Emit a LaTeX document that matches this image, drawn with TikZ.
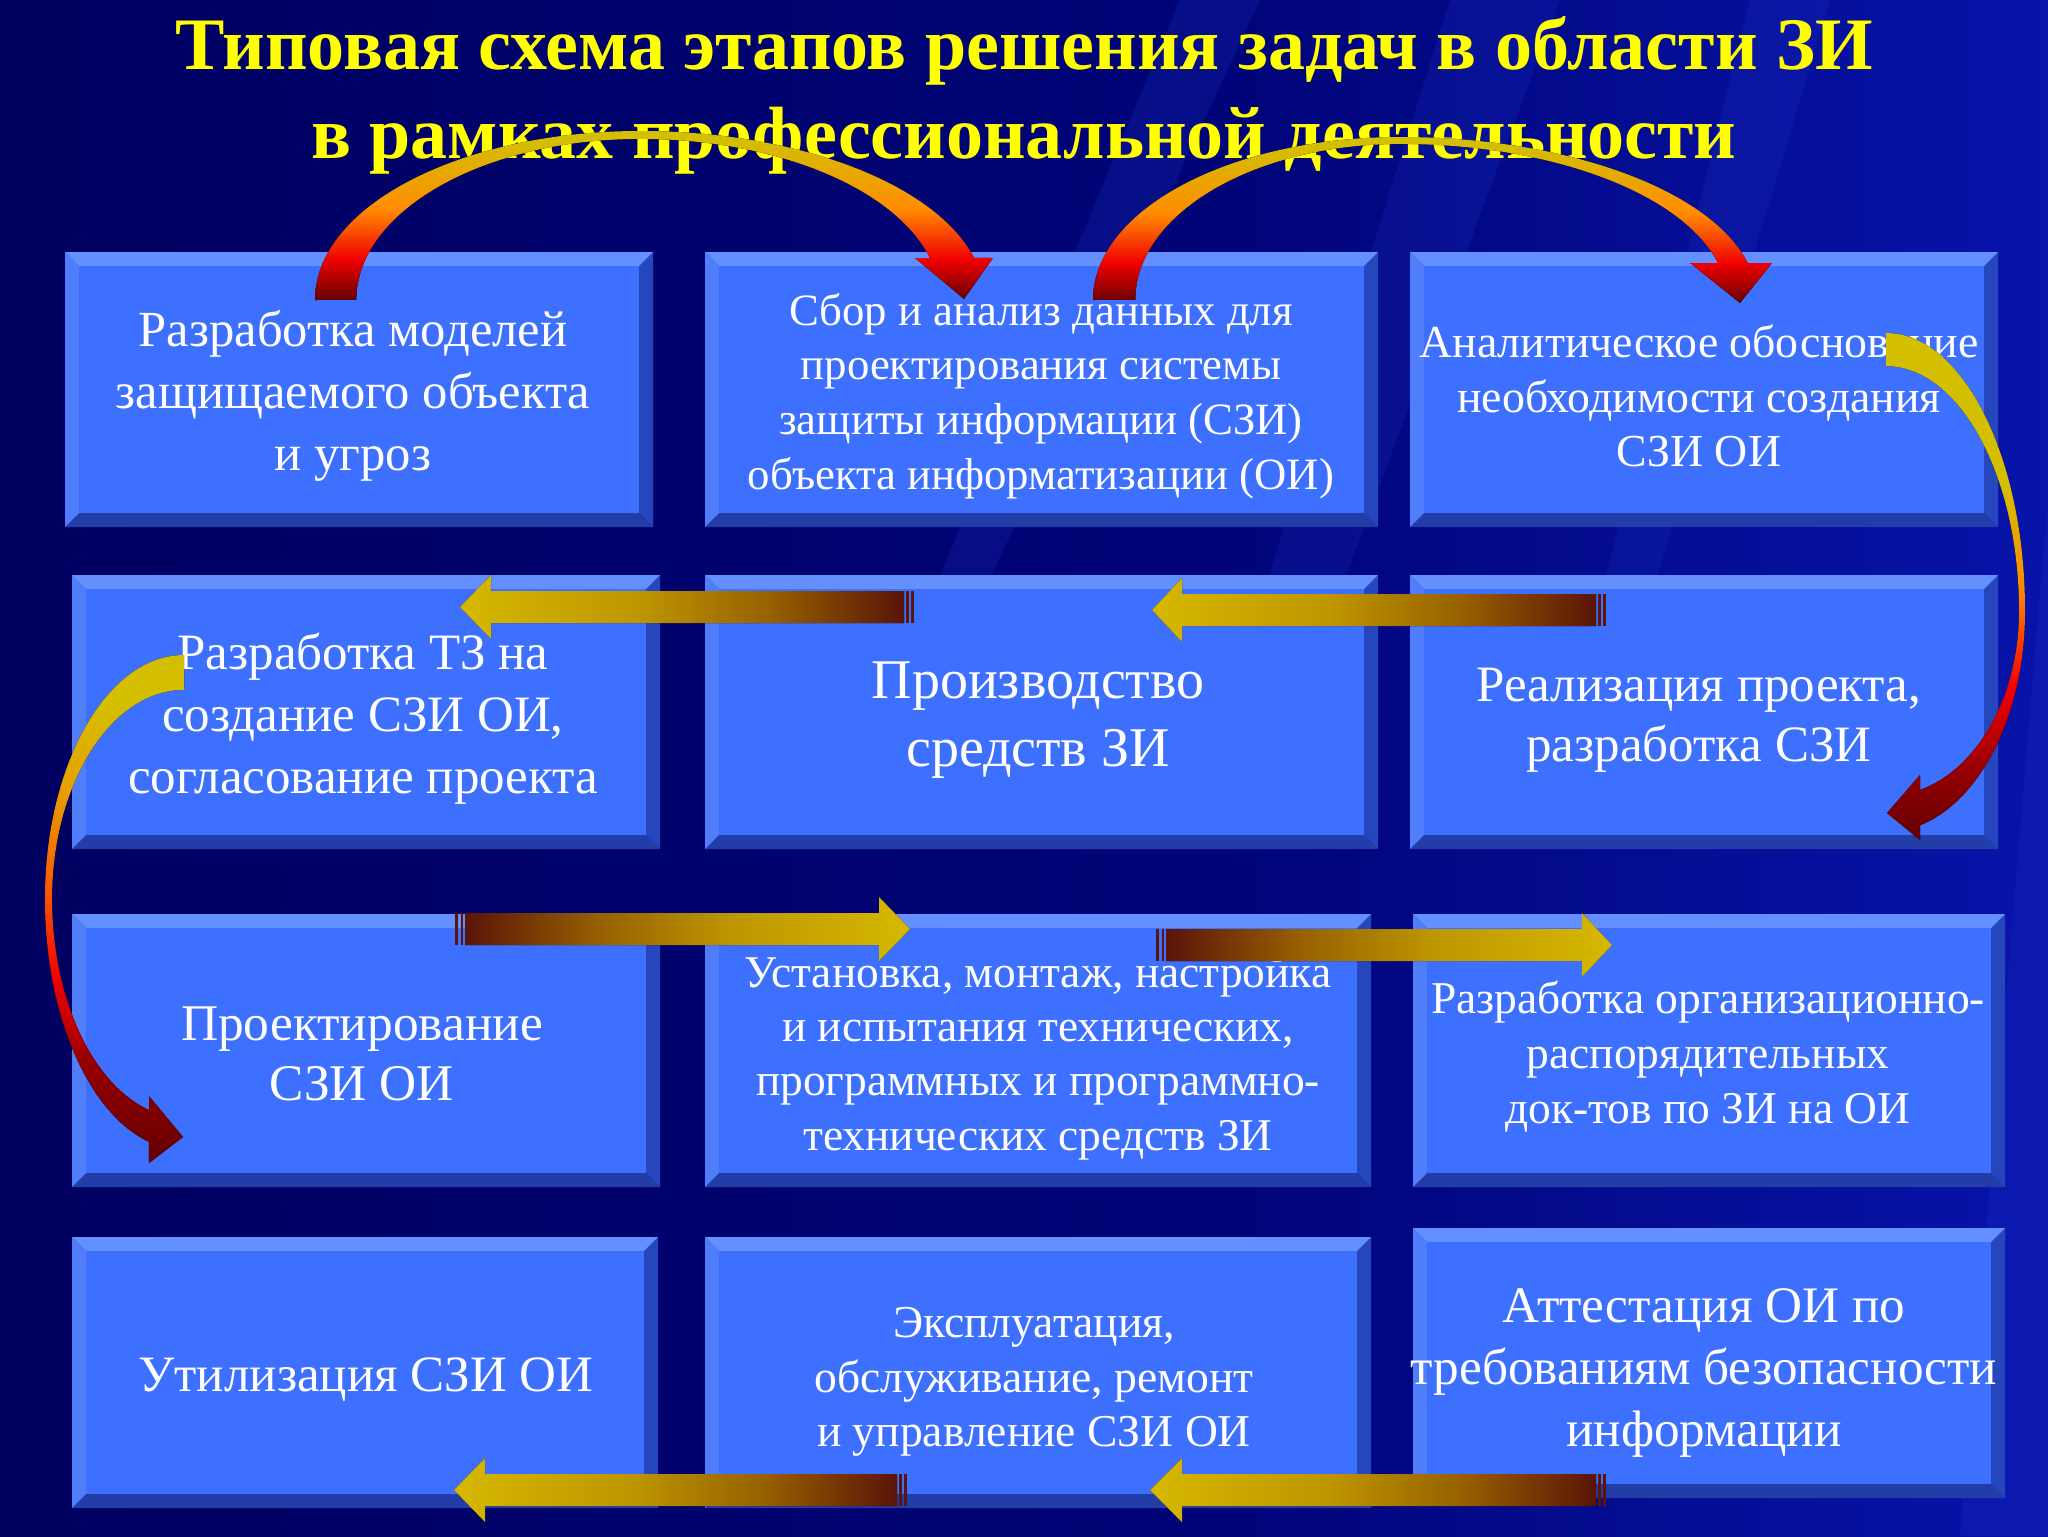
\documentclass[tikz,border=0pt]{standalone}
\usepackage{fontspec}
\setmainfont{Liberation Serif}
\usetikzlibrary{calc}

\definecolor{bgL}{RGB}{0,0,96}
\definecolor{bgM}{RGB}{0,4,120}
\definecolor{bgR}{RGB}{8,20,170}
\definecolor{streakc}{RGB}{30,50,200}
\definecolor{ttl}{RGB}{255,255,0}
\definecolor{bface}{RGB}{62,112,255}
\definecolor{btop}{RGB}{100,144,255}
\definecolor{bleft}{RGB}{80,126,250}
\definecolor{bright}{RGB}{38,70,190}
\definecolor{bbot}{RGB}{34,60,168}
\definecolor{dred}{RGB}{100,0,0}
\definecolor{mred}{RGB}{150,0,0}
\definecolor{bred}{RGB}{240,0,0}
\definecolor{orng}{RGB}{255,140,0}
\definecolor{orred}{RGB}{250,90,0}
\definecolor{orgld}{RGB}{230,160,0}
\definecolor{gld}{RGB}{212,190,0}
\definecolor{agold}{RGB}{214,184,0}
\definecolor{agm}{RGB}{190,150,0}
\definecolor{amid}{RGB}{150,96,0}
\definecolor{abrown}{RGB}{90,20,8}

\pgfdeclarehorizontalshading{bgshade}{100bp}{color(0bp)=(bgL); color(25bp)=(bgL); color(55bp)=(bgM); color(75bp)=(bgR); color(100bp)=(bgR)}
\pgfdeclareverticalshading{tarc}{100bp}{color(0bp)=(dred); color(25bp)=(dred); color(37bp)=(bred); color(52bp)=(orng); color(72bp)=(gld); color(100bp)=(gld)}
\pgfdeclareverticalshading{rarc}{100bp}{color(0bp)=(dred); color(25bp)=(dred); color(32bp)=(mred); color(40bp)=(bred); color(50bp)=(orng); color(60bp)=(gld); color(100bp)=(gld)}
\pgfdeclareverticalshading{larc}{100bp}{color(0bp)=(dred); color(25bp)=(dred); color(35bp)=(mred); color(43bp)=(bred); color(52bp)=(orred); color(62bp)=(orgld); color(70bp)=(gld); color(100bp)=(gld)}
\pgfdeclarehorizontalshading{larrow}{100bp}{color(0bp)=(agold); color(25bp)=(agold); color(45bp)=(agm); color(60bp)=(amid); color(75bp)=(abrown); color(100bp)=(abrown)}
\pgfdeclarehorizontalshading{rarrow}{100bp}{color(0bp)=(abrown); color(25bp)=(abrown); color(40bp)=(amid); color(55bp)=(agm); color(75bp)=(agold); color(100bp)=(agold)}

\newcommand\fs[2]{\fontsize{#1}{#2}\selectfont}
\def\bv{14}
% name, x1, y1, x2, y2
\newcommand\bevbox[5]{%
  \fill[bbot] (#2,#5) -- (#4,#5) -- ({#4-\bv},{#5-\bv}) -- ({#2+\bv},{#5-\bv}) -- cycle;
  \fill[bright] (#4,#3) -- (#4,#5) -- ({#4-\bv},{#5-\bv}) -- ({#4-\bv},{#3+\bv}) -- cycle;
  \fill[bleft] (#2,#3) -- ({#2+\bv},{#3+\bv}) -- ({#2+\bv},{#5-\bv}) -- (#2,#5) -- cycle;
  \fill[btop] (#2,#3) -- (#4,#3) -- ({#4-\bv},{#3+\bv}) -- ({#2+\bv},{#3+\bv}) -- cycle;
  \fill[bface] ({#2+\bv},{#3+\bv}) rectangle ({#4-\bv},{#5-\bv});
  \coordinate (#1) at ({(#2+#4)/2},{(#3+#5)/2});
}
% left-pointing arrow: tipx, basex, tailx, cy
\newcommand\larr[4]{%
  \fill[shading=larrow] (#1,#4) -- (#2,{#4-32}) -- (#2,{#4-16}) -- ({#3-10},{#4-16}) -- ({#3-10},{#4+16}) -- (#2,{#4+16}) -- (#2,{#4+32}) -- cycle;
  \fill[abrown] ({#3-8},{#4-16}) rectangle ({#3-5.5},{#4+16});
  \fill[abrown] ({#3-3},{#4-16}) rectangle (#3,{#4+16});
}
% right-pointing arrow: tipx, basex, tailx, cy
\newcommand\rarr[4]{%
  \fill[shading=rarrow] (#1,#4) -- (#2,{#4-32}) -- (#2,{#4-16}) -- ({#3+10},{#4-16}) -- ({#3+10},{#4+16}) -- (#2,{#4+16}) -- (#2,{#4+32}) -- cycle;
  \fill[abrown] (#3,{#4-16}) rectangle ({#3+3},{#4+16});
  \fill[abrown] ({#3+5.5},{#4-16}) rectangle ({#3+8},{#4+16});
}

\tikzset{
  boxtxt/.style={text=white, align=center, inner sep=0pt},
  titletxt/.style={text=ttl, inner sep=0pt, anchor=base, font=\fs{37}{41}\bfseries},
  streak/.style={fill=streakc, opacity=0.22}
}

\begin{document}
\begin{tikzpicture}[x=0.5pt, y=-0.5pt]
\useasboundingbox (0,0) rectangle (2048,1536);
\fill[shading=bgshade] (0,0) rectangle (2048,1536);
% background streaks
\fill[streak] (1180,0) -- (1260,0) -- (980,600) -- (930,600) -- cycle;
\fill[streak] (1450,0) -- (1560,0) -- (1300,700) -- (1230,700) -- cycle;
\fill[streak] (1750,0) -- (1830,0) -- (1650,600) -- (1600,600) -- cycle;
\fill[streak] (2048,500) -- (2048,1536) -- (1960,1536) -- cycle;

% boxes
\bevbox{b11}{65}{252}{653}{527}
\bevbox{b12}{705}{252}{1378}{527}
\bevbox{b13}{1410}{252}{1998}{527}
\bevbox{b21}{72}{575}{660}{849}
\bevbox{b22}{705}{575}{1378}{849}
\bevbox{b23}{1410}{575}{1998}{849}
\bevbox{b31}{72}{914}{660}{1187}
\bevbox{b32}{705}{914}{1371}{1187}
\bevbox{b33}{1413}{914}{2005}{1187}
\bevbox{b41}{72}{1237}{658}{1508}
\bevbox{b42}{705}{1237}{1371}{1508}
\bevbox{b43}{1413}{1228}{2005}{1498}

% texts
\node[boxtxt, font=\fs{25.3}{31}] (t11) at (353,396) {Разработка моделей\\защищаемого объекта\\и угроз};
\node[boxtxt, font=\fs{22.4}{27.3}] (t12) at (1041,396) {Сбор и анализ данных для\\проектирования системы\\защиты информации (СЗИ)\\объекта информатизации (ОИ)};
\node[boxtxt, font=\fs{22.9}{27.2}] (t13) at (1699,396) {Аналитическое обоснование\\необходимости создания\\СЗИ ОИ};
\node[boxtxt, font=\fs{25.5}{31}] (t21) at (363,719) {Разработка ТЗ на\\создание СЗИ ОИ,\\согласование проекта};
\node[boxtxt, font=\fs{28}{34}] (t22) at (1038,720) {Производство\\средств ЗИ};
\node[boxtxt, font=\fs{25.5}{30}] (t23) at (1699,720) {Реализация проекта,\\разработка СЗИ};
\node[boxtxt, font=\fs{25.7}{30}] (t31) at (362,1054) {Проектирование\\СЗИ ОИ};
\node[boxtxt, font=\fs{22.7}{27.2}] (t32) at (1038,1058) {Установка, монтаж, настройка\\и испытания технических,\\программных и программно-\\технических средств ЗИ};
\node[boxtxt, font=\fs{22.75}{27.5}] (t33) at (1708,1057) {Разработка организационно-\\распорядительных\\док-тов по ЗИ на ОИ};
\node[boxtxt, font=\fs{25.5}{31}] (t41) at (366,1380) {Утилизация СЗИ ОИ};
\node[boxtxt, font=\fs{22.8}{27.2}] (t42) at (1034,1382) {Эксплуатация,\\обслуживание, ремонт\\и управление СЗИ ОИ};
\node[boxtxt, font=\fs{25.6}{31}] (t43) at (1704,1373) {Аттестация ОИ по\\требованиям безопасности\\информации};

% title
\node[titletxt] (title1) at (1024,70) {Типовая схема этапов решения задач в области ЗИ};
\node[titletxt] (title2) at (1024,158) {в рамках профессиональной деятельности};

% curved arrow 1 (b11 -> b12)
\fill[shading=tarc] (315,300) arc[start angle=180, end angle=270, x radius=325, y radius=169]
  arc[start angle=270, end angle=345.6, x radius=345, y radius=169]
  -- (993,258) -- (964,299) -- (915,258) -- (930,258)
  arc[start angle=344.9, end angle=270, x radius=300, y radius=161]
  arc[start angle=270, end angle=180, x radius=284, y radius=161] -- cycle;
% curved arrow 2 (b12 -> b13)
\fill[shading=tarc] (1093,300) arc[start angle=180, end angle=270, x radius=307, y radius=163]
  arc[start angle=270, end angle=346.9, x radius=357, y radius=163]
  -- (1772,263) -- (1740,303) -- (1690,263) -- (1718,263)
  arc[start angle=346.3, end angle=270, x radius=327, y radius=156]
  arc[start angle=270, end angle=180, x radius=265, y radius=156] -- cycle;
% curved arrow 3 (b13 -> b23)
\fill[shading=rarc] (1886,333) arc[start angle=270, end angle=360, x radius=139, y radius=278]
  arc[start angle=0, end angle=75.84, x radius=139, y radius=221]
  -- (1920,840) -- (1887,813) -- (1920,775) -- (1920,790)
  arc[start angle=75.2, end angle=0, x radius=133, y radius=185]
  arc[start angle=360, end angle=270, x radius=133, y radius=245] -- cycle;
% curved arrow 4 (b21 -> b31)
\fill[shading=larc] (184,655) arc[start angle=270, end angle=180, x radius=139, y radius=244]
  arc[start angle=180, end angle=104.6, x radius=139, y radius=251]
  -- (149,1163) -- (183,1137) -- (149,1096) -- (149,1110)
  arc[start angle=105.4, end angle=180, x radius=132, y radius=219]
  arc[start angle=180, end angle=270, x radius=132, y radius=209] -- cycle;

% straight arrows
\larr{460}{491}{914}{607}
\larr{1152}{1182}{1606}{610}
\rarr{910}{879}{455}{929}
\rarr{1612}{1582}{1156}{945}
\larr{454}{485}{907}{1490}
\larr{1150}{1182}{1606}{1490}
\end{tikzpicture}
\end{document}
